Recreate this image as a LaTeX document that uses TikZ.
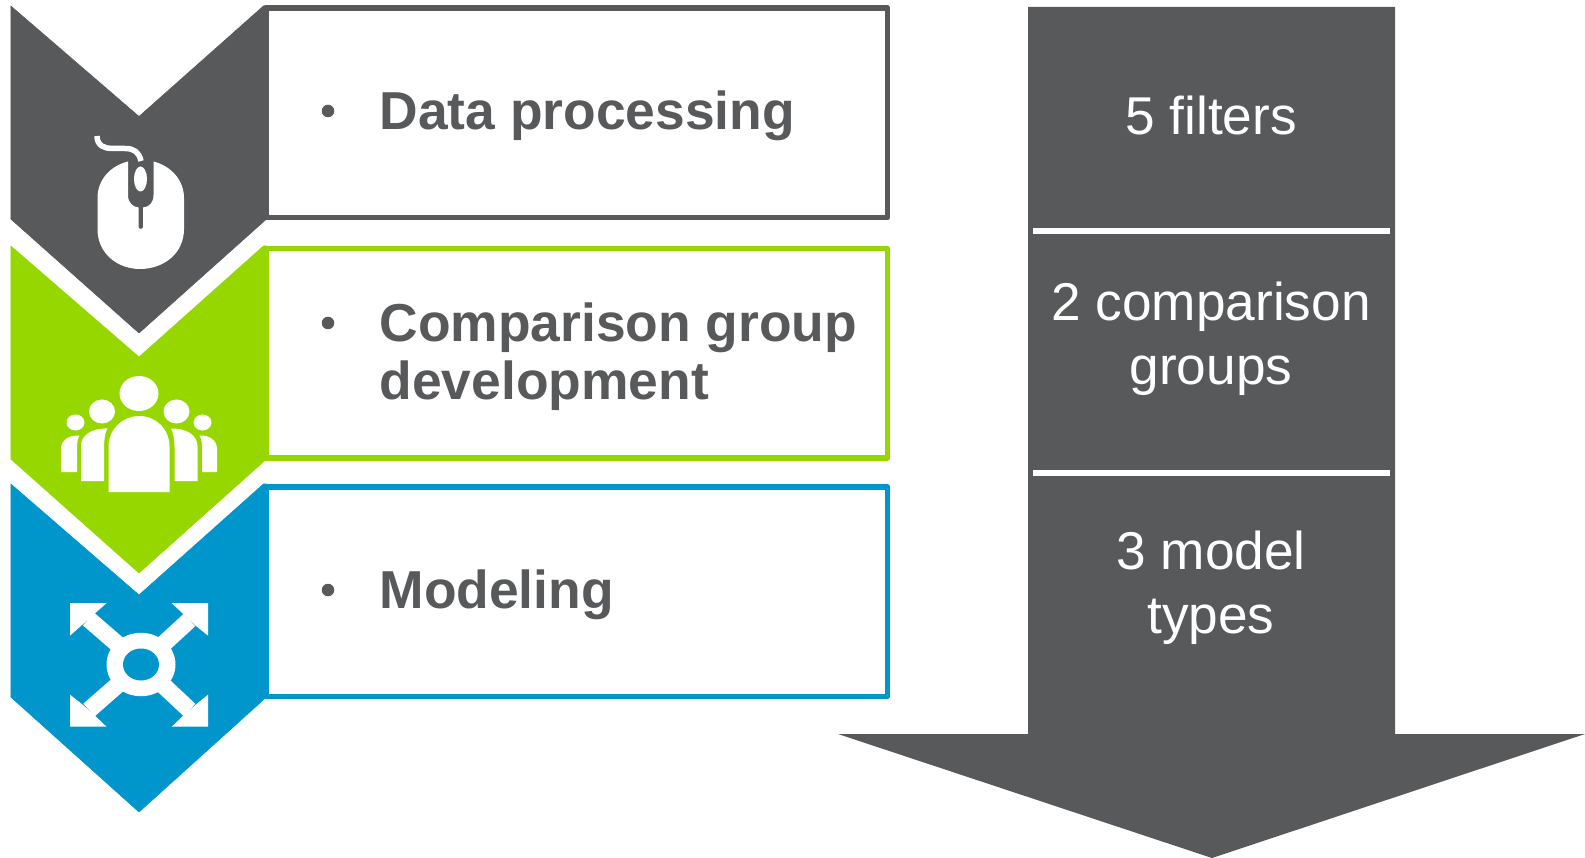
\documentclass[tikz,border=0pt]{standalone}
\usepackage{fontspec}
\setmainfont{Liberation Sans}
\definecolor{cgray}{HTML}{58595B}
\definecolor{cgreen}{HTML}{97D700}
\definecolor{cblue}{HTML}{0096CC}
\tikzset{x=1pt,y=-1pt,
 chev/.style={fill=#1,draw=#1,line width=0.6pt,line join=round},
 bx/.style={draw=#1,line width=5.4pt,line join=round,fill=white},
 ico/.style={fill=white,draw=none},
 arm/.style={draw=white,line width=17pt},
 lbl/.style={font=\fontsize{53.4}{58}\selectfont\bfseries,text=cgray,anchor=west,align=left},
 blt/.style={circle,fill=cgray,inner sep=0pt,minimum size=12.5pt},
 rtxt/.style={font=\fontsize{53.2}{64}\selectfont,text=white,align=center,anchor=center},
 sep/.style={draw=white,line width=5.5pt}}
\begin{document}
\begin{tikzpicture}
\useasboundingbox (0,0) rectangle (1585,858);
% boxes
\draw[bx=cgray] (266,8) rectangle (887.7,217.7);
\draw[bx=cgreen] (266,248.5) rectangle (887.7,458);
\draw[bx=cblue] (266,487) rectangle (887.7,696.5);
% chevrons
\fill[chev=cgray] (10.8,6) -- (139,116.5) -- (263.5,6) -- (266.5,6) -- (266.5,219) -- (139,333) -- (10.8,219) -- cycle;
\fill[chev=cgreen] (10.8,246) -- (139,357) -- (263.5,246) -- (266.5,246) -- (266.5,459) -- (139,573) -- (10.8,459) -- cycle;
\fill[chev=cblue] (10.8,484) -- (139,595) -- (263.5,484) -- (266.5,484) -- (266.5,697) -- (139,812) -- (10.8,697) -- cycle;
% mouse icon
\fill[ico] (128,161.5) .. controls (110,166) and (97.5,180) .. (97.5,198) -- (97.5,229) .. controls (97.5,254) and (118,269) .. (140,269) .. controls (163,269) and (184,254) .. (184,229) -- (184,198) .. controls (184,180) and (171,166) .. (153.5,161.5) -- (153.5,195) .. controls (153.5,203) and (149,207) .. (143,207.5) -- (143,227) .. controls (143,229.5) and (138.5,229.5) .. (138.5,227) -- (138.5,207.5) .. controls (133,207) and (128,203) .. (128,195) -- cycle;
\fill[ico] (140.5,179) ellipse [x radius=6.5,y radius=12.5];
\draw[white,line width=5.5pt] (97,136) .. controls (97,146) and (105,148.5) .. (112,148.5) -- (125,148.5) .. controls (134,148.5) and (139,152) .. (141,161);
% people icon
\fill[ico] (139,393.5) ellipse [x radius=19.5,y radius=17.5];
\fill[ico] (102,411.5) ellipse [x radius=13,y radius=12];
\fill[ico] (176.5,411.5) ellipse [x radius=13,y radius=12];
\fill[ico] (75.5,422.5) ellipse [x radius=9,y radius=8];
\fill[ico] (202.5,422.5) ellipse [x radius=9,y radius=8];
\fill[ico] (108.5,492) -- (108.5,447) .. controls (108.5,428) and (124,416) .. (139,416) .. controls (155,416) and (169.5,428) .. (169.5,447) -- (169.5,492) -- cycle;
\fill[ico] (81,481) -- (81,446) .. controls (81,435) and (92,428) .. (107.5,428.5) .. controls (105,433) and (104,440) .. (104,447) -- (104,481) -- cycle;
\fill[ico] (197.5,481) -- (197.5,446) .. controls (197.5,435) and (186,428) .. (171,428.5) .. controls (173.5,433) and (174.5,440) .. (174.5,447) -- (174.5,481) -- cycle;
\fill[ico] (61,472) -- (61,449) .. controls (61,440) and (69,435) .. (79.5,435.5) .. controls (78,438) and (77,442) .. (77,447) -- (77,472) -- cycle;
\fill[ico] (217,472) -- (217,449) .. controls (217,440) and (209,435) .. (199.5,435.5) .. controls (201,438) and (202,442) .. (202,447) -- (202,472) -- cycle;
% modeling icon
\draw[arm] (88.5,619) -- (141,664.5);
\draw[arm] (189.5,620) -- (141,664.5);
\draw[arm] (89,710) -- (141,664.5);
\draw[arm] (189.5,710) -- (141,664.5);
\fill[ico] (70,603) -- (106.7,603) -- (95,613.3) -- (82,625) -- (70,635.7) -- cycle;
\fill[ico] (208,603) -- (171.5,603) -- (183.3,614) -- (195.7,625.7) -- (208,635.7) -- cycle;
\fill[ico] (70,726.7) -- (106.5,726.7) -- (95,715.7) -- (82.7,704.7) -- (70,694.7) -- cycle;
\fill[ico] (208,726.7) -- (171.7,726.7) -- (183.3,715.7) -- (195.7,704.7) -- (208,694.7) -- cycle;
\fill[ico] (141,664.5) ellipse [x radius=34.5,y radius=31.7];
\fill[cblue] (141,664.5) ellipse [x radius=18,y radius=16];
% left labels
\node[blt] (b1) at (328,111) {};
\node[blt] (b2) at (328,323) {};
\node[blt] (b3) at (328,590) {};
\node[lbl] (t1) at (376,116) {Data processing};
\node[lbl] (t2) at (376,356.5) {Comparison group\\development};
\node[lbl] (t3) at (376,594.5) {Modeling};
% right arrow
\fill[cgray] (1028,7) -- (1395,7) -- (1395,734) -- (1585,734) -- (1212,858) -- (838,734) -- (1028,734) -- cycle;
\coordinate (s1l) at (1033,231); \coordinate (s1r) at (1390,231);
\coordinate (s2l) at (1033,473); \coordinate (s2r) at (1390,473);
\draw[sep] (s1l) -- (s1r);
\draw[sep] (s2l) -- (s2r);
\node[rtxt] (r1) at (1211,115.5) {5 filters};
\node[rtxt] (r2) at (1211,338.5) {2 comparison\\groups};
\node[rtxt] (r3) at (1211,587.5) {3 model\\types};
\end{tikzpicture}
\end{document}
